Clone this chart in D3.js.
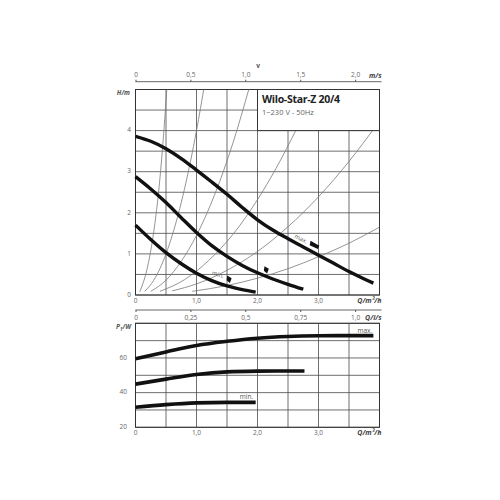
<!DOCTYPE html>
<html><head><meta charset="utf-8">
<script src="https://cdn.jsdelivr.net/npm/d3@7"></script>
<style>
body{margin:0;background:#fff;}
svg{display:block;}
text{font-family:"Open Sans",sans-serif;}
</style></head>
<body>
<svg id="c" width="500" height="500"></svg>
<script>
// ---------- DATA ----------
const title = "Wilo-Star-Z 20/4";
const subtitle = "1~230 V - 50Hz";

// Pump curves H(Q)
const qMax = [0, 0.25, 0.5, 0.75, 1.0, 1.25, 1.5, 1.75, 2.0, 2.25, 2.5, 2.75, 3.0, 3.25, 3.5, 3.75, 3.9];
const hMax = [3.86, 3.74, 3.56, 3.32, 3.04, 2.75, 2.45, 2.13, 1.83, 1.58, 1.37, 1.17, 0.97, 0.77, 0.57, 0.39, 0.29];
const qMid = [0, 0.25, 0.5, 0.75, 1.0, 1.25, 1.5, 1.75, 2.0, 2.25, 2.5, 2.75];
const hMid = [2.88, 2.58, 2.25, 1.88, 1.52, 1.2, 0.94, 0.72, 0.54, 0.39, 0.26, 0.14];
const qMin = [0, 0.25, 0.5, 0.75, 1.0, 1.25, 1.5, 1.75, 1.97];
const hMin = [1.7, 1.35, 1.03, 0.76, 0.53, 0.35, 0.22, 0.13, 0.07];

// System curves (thin)
const sysQ = [
  [0.07, 0.2, 0.3, 0.374, 0.45, 0.515],
  [0.15, 0.3, 0.5, 0.7, 0.9, 1.0, 1.13],
  [0.25, 0.5, 0.75, 1.0, 1.3, 1.6, 1.87],
  [0.4, 0.8, 1.2, 1.6, 2.0, 2.3, 2.65],
  [0.6, 1.0, 1.5, 2.0, 2.5, 3.0, 3.5, 3.95],
  [0.93, 1.5, 2.0, 2.5, 3.0, 3.5, 4.0]
];
const sysH = [
  [0.08, 0.7, 1.55, 2.44, 3.7, 5.05],
  [0.09, 0.36, 1.0, 1.96, 3.24, 4.0, 5.1],
  [0.09, 0.36, 0.82, 1.45, 2.45, 3.71, 5.07],
  [0.09, 0.37, 0.84, 1.48, 2.32, 3.07, 4.07],
  [0.1, 0.27, 0.6, 1.06, 1.66, 2.39, 3.25, 4.13],
  [0.09, 0.23, 0.41, 0.64, 0.93, 1.26, 1.65]
];

// Speed setting markers and labels (top chart)
const markQ = [2.93, 2.14, 1.53];
const markH = [1.22, 0.63, 0.40];
const markW = [10, 5, 5];
const markLabels = ["max.", "min."];
const markLabelQ = [2.71, 1.35];
const markLabelH = [1.36, 0.49];

// Power curves P1(Q)
const pqMax = [0, 0.5, 1.0, 1.5, 2.0, 2.5, 3.0, 3.5, 3.9];
const pMax = [59.6, 63.5, 67.2, 69.6, 71.4, 72.4, 72.8, 72.9, 72.9];
const pqMid = [0, 0.5, 1.0, 1.5, 2.0, 2.5, 2.77];
const pMid = [44.9, 47.8, 50.5, 52.0, 52.4, 52.5, 52.5];
const pqMin = [0, 0.5, 1.0, 1.5, 1.97];
const pMin = [31.6, 33.1, 34.1, 34.4, 34.4];
const pLabels = ["max.", "min."];
const pLabelQ = [3.76, 1.82];
const pLabelP = [75.5, 37.2];

// Ticks
const qTicks = [0, 1, 2, 3];
const hTicks = [0, 1, 2, 3, 4];
const pTicks = [20, 40, 60];
const vTicks = [0, 0.5, 1.0, 1.5, 2.0];
const lsTicks = [0, 0.25, 0.5, 0.75, 1.0];

(function () {
// ---------- SCALES ----------
const X0 = 135.5, X1 = 379.5;
const x = d3.scaleLinear([0, 4], [X0, X1]);
const yH = d3.scaleLinear([0, 5], [295, 89.5]);
const yP = d3.scaleLinear([20, 80], [427.3, 323.3]);
const xV = d3.scaleLinear([0, 2], [X0, x(3.6)]);
const xLs = d3.scaleLinear([0, 1], [X0, x(3.6)]);

const fmt1 = d => d === 0 ? "0" : d3.format(".1f")(d).replace(".", ",");
const fmtLs = d => d === 0 ? "0" : (d === 1 ? "1,0" : String(d).replace(".", ","));

const svg = d3.select("#c");
const gridCol = "#4a4a4a", labCol = "#666";

function grid(g, yScale, yVals) {
  g.selectAll("line.v").data(d3.range(0, 4.01, 0.5)).join("line").attr("class", "v")
    .attr("x1", d => x(d)).attr("x2", d => x(d))
    .attr("y1", yScale.range()[0]).attr("y2", yScale.range()[1])
    .attr("stroke", gridCol).attr("stroke-width", 0.8);
  g.selectAll("line.h").data(yVals).join("line").attr("class", "h")
    .attr("x1", X0).attr("x2", X1)
    .attr("y1", d => yScale(d)).attr("y2", d => yScale(d))
    .attr("stroke", gridCol).attr("stroke-width", 0.8);
  g.append("rect").attr("x", X0).attr("y", yScale.range()[1])
    .attr("width", X1 - X0).attr("height", yScale.range()[0] - yScale.range()[1])
    .attr("fill", "none").attr("stroke", "#333").attr("stroke-width", 1);
}

// ---------- TOP CHART ----------
svg.append("clipPath").attr("id", "clipTop").append("rect")
  .attr("x", X0).attr("y", yH(5)).attr("width", X1 - X0).attr("height", yH(0) - yH(5));

const topG = svg.append("g");
grid(topG, yH, d3.range(0, 5.01, 0.5));

const lineH = d3.line().x(d => x(d[0])).y(d => yH(d[1])).curve(d3.curveMonotoneX);
const sysG = topG.append("g").attr("clip-path", "url(#clipTop)");
sysQ.forEach((qs, i) => {
  sysG.append("path").datum(qs.map((q, j) => [q, sysH[i][j]]))
    .attr("d", lineH).attr("fill", "none").attr("stroke", "#7a7a7a").attr("stroke-width", 0.8);
});

[[qMax, hMax], [qMid, hMid], [qMin, hMin]].forEach(([qs, hs]) => {
  topG.append("path").datum(qs.map((q, j) => [q, hs[j]]))
    .attr("d", lineH)
    .attr("fill", "none").attr("stroke", "#111").attr("stroke-width", 3.4);
});

// markers
markQ.forEach((q, i) => {
  const w = markW[i], h = 4.5;
  topG.append("path")
    .attr("transform", `translate(${x(q)},${yH(markH[i])}) rotate(${i === 0 ? 24 : 20})`)
    .attr("d", `M${-w/2},${-h/2} L${w/2},${-h/2 + 1} L${w/2},${h/2 + (i === 0 ? 0 : 1.5)} L${-w/2 + 1},${h/2} Z`)
    .attr("fill", "#111");
});
markLabels.forEach((t, i) => {
  topG.append("text").text(t)
    .attr("transform", `translate(${x(markLabelQ[i])},${yH(markLabelH[i])}) rotate(${i === 0 ? 27 : 18})`)
    .attr("text-anchor", "middle").attr("dominant-baseline", "middle")
    .attr("font-size", 6).attr("fill", "#555");
});

// title box
topG.append("rect").attr("x", x(2)).attr("y", yH(5)).attr("width", X1 - x(2)).attr("height", yH(4) - yH(5))
  .attr("fill", "#fff").attr("stroke", "#333").attr("stroke-width", 1);
topG.append("text").text(title).attr("x", x(2) + 4.5).attr("y", 103)
  .attr("font-size", 10.5).attr("font-weight", 700).attr("fill", "#222").attr("letter-spacing", -0.3);
topG.append("text").text(subtitle).attr("x", x(2) + 4.5).attr("y", 114.5)
  .attr("font-size", 7.5).attr("fill", "#666");

// H labels
topG.selectAll("text.hl").data(hTicks).join("text").attr("class", "hl")
  .attr("x", 131).attr("y", d => yH(d)).attr("text-anchor", "end").attr("dominant-baseline", "middle")
  .attr("font-size", 6.5).attr("fill", labCol).text(d => d);
topG.append("text").text("H/m").attr("x", 130).attr("y", 93).attr("text-anchor", "end")
  .attr("dominant-baseline", "middle").attr("font-size", 6.5).attr("font-style", "italic")
  .attr("font-weight", 700).attr("fill", "#555");

// Q labels (top chart)
topG.selectAll("text.ql").data(qTicks).join("text").attr("class", "ql")
  .attr("x", d => x(d)).attr("y", 301.5).attr("text-anchor", "middle").attr("dominant-baseline", "middle")
  .attr("font-size", 6.5).attr("fill", labCol).text(fmt1);
topG.append("text").text("Q/m³/h").attr("x", 381.5).attr("y", 301.5).attr("text-anchor", "end")
  .attr("dominant-baseline", "middle").attr("font-size", 7).attr("font-style", "italic")
  .attr("font-weight", 700).attr("fill", "#444");

// v axis
const vAx = svg.append("g").attr("transform", "translate(0,81.7)")
  .call(d3.axisTop(xV).tickValues(vTicks).tickSize(2).tickFormat(fmt1));
vAx.select(".domain").remove();
vAx.selectAll("line").attr("stroke", "#555");
vAx.selectAll("text").attr("font-size", 6.5).attr("fill", labCol).attr("font-family", "Open Sans").attr("dy", "0.1em");
svg.append("line").attr("x1", X0).attr("x2", X1 + 2).attr("y1", 81.7).attr("y2", 81.7)
  .attr("stroke", "#555").attr("stroke-width", 0.9);
svg.append("text").text("m/s").attr("x", 381.5).attr("y", 76).attr("text-anchor", "end")
  .attr("dominant-baseline", "middle").attr("font-size", 7).attr("font-style", "italic")
  .attr("font-weight", 700).attr("fill", "#444");
svg.append("text").text("v").attr("x", 258).attr("y", 66).attr("text-anchor", "middle")
  .attr("dominant-baseline", "middle").attr("font-size", 6.5).attr("font-weight", 700).attr("fill", "#555");

// Q l/s axis
const lsAx = svg.append("g").attr("transform", "translate(0,310)")
  .call(d3.axisBottom(xLs).tickValues(lsTicks).tickSize(2).tickFormat(fmtLs));
lsAx.select(".domain").remove();
lsAx.selectAll("line").attr("stroke", "#555");
lsAx.selectAll("text").attr("font-size", 6.5).attr("fill", labCol).attr("font-family", "Open Sans").attr("dy", "0.71em");
svg.append("line").attr("x1", X0).attr("x2", X1 + 2).attr("y1", 310).attr("y2", 310)
  .attr("stroke", "#555").attr("stroke-width", 0.9);
svg.append("text").text("Q/l/s").attr("x", 381.5).attr("y", 318).attr("text-anchor", "end")
  .attr("dominant-baseline", "middle").attr("font-size", 7).attr("font-style", "italic")
  .attr("font-weight", 700).attr("fill", "#444");

// ---------- BOTTOM CHART ----------
const bot = svg.append("g");
grid(bot, yP, d3.range(20, 80.1, 10));
[[pqMax, pMax], [pqMid, pMid], [pqMin, pMin]].forEach(([qs, ps]) => {
  bot.append("path").datum(qs.map((q, j) => [q, ps[j]]))
    .attr("d", d3.line().x(d => x(d[0])).y(d => yP(d[1])).curve(d3.curveMonotoneX))
    .attr("fill", "none").attr("stroke", "#111").attr("stroke-width", 3.6);
});
pLabels.forEach((t, i) => {
  bot.append("text").text(t).attr("x", x(pLabelQ[i])).attr("y", yP(pLabelP[i]))
    .attr("text-anchor", "middle").attr("dominant-baseline", "middle")
    .attr("font-size", 6.5).attr("fill", "#555");
});
bot.selectAll("text.pl").data(pTicks).join("text").attr("class", "pl")
  .attr("x", 127).attr("y", d => yP(d)).attr("text-anchor", "end").attr("dominant-baseline", "middle")
  .attr("font-size", 6.5).attr("fill", labCol).text(d => d);
const pl = bot.append("text").attr("x", 131).attr("y", 329).attr("text-anchor", "end")
  .attr("font-size", 6.5).attr("font-style", "italic")
  .attr("font-weight", 700).attr("fill", "#555");
pl.append("tspan").text("P");
pl.append("tspan").text("1").attr("font-size", 4.5).attr("dy", 1.5);
pl.append("tspan").text("/W").attr("dy", -1.5);
bot.selectAll("text.ql2").data(qTicks).join("text").attr("class", "ql2")
  .attr("x", d => x(d)).attr("y", 433).attr("text-anchor", "middle").attr("dominant-baseline", "middle")
  .attr("font-size", 6.5).attr("fill", labCol).text(fmt1);
bot.append("text").text("Q/m³/h").attr("x", 381.5).attr("y", 433).attr("text-anchor", "end")
  .attr("dominant-baseline", "middle").attr("font-size", 7).attr("font-style", "italic")
  .attr("font-weight", 700).attr("fill", "#444");
})();
</script>
</body></html>
